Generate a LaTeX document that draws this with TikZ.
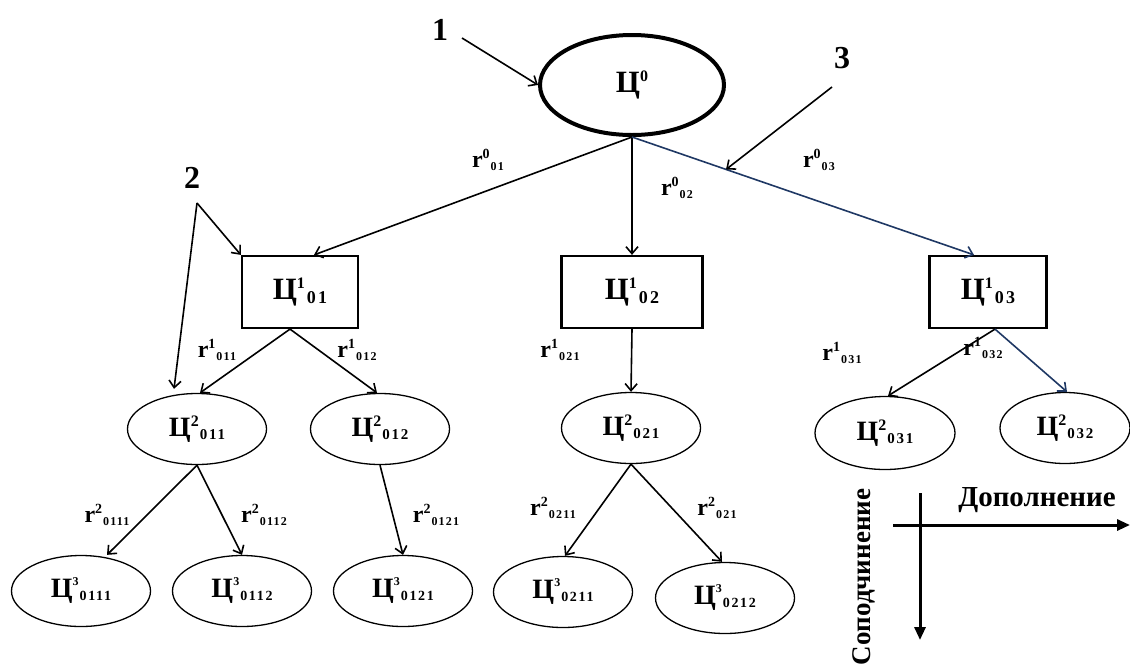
\documentclass[tikz,border=0pt]{standalone}
\usepackage{fontspec}
\setmainfont{Liberation Serif}
\usetikzlibrary{shapes.geometric,arrows.meta,calc}
\definecolor{linkblue}{RGB}{31,56,100}

% goal symbols: Ц with a superscript level and a spaced subscript index
\newcommand\RootGoal[1]{{\fontsize{31}{31}\selectfont Ц}\raisebox{11pt}{\fontsize{16}{16}\selectfont #1}}
\newcommand\BoxGoal[2]{{\fontsize{31}{31}\selectfont Ц}\raisebox{11pt}{\fontsize{16}{16}\selectfont #1}\hspace{2pt}\raisebox{-4pt}{\fontsize{18}{18}\selectfont\addfontfeatures{LetterSpace=12}#2}}
\newcommand\MidGoal[2]{{\fontsize{28}{28}\selectfont Ц}\raisebox{10pt}{\fontsize{16}{16}\selectfont #1}\hspace{1pt}\raisebox{-3pt}{\fontsize{15}{15}\selectfont\addfontfeatures{LetterSpace=12}#2}}
\newcommand\LowGoal[2]{{\fontsize{28}{28}\selectfont Ц}\raisebox{12pt}{\fontsize{12}{12}\selectfont #1}\hspace{1pt}\raisebox{-3pt}{\fontsize{14}{14}\selectfont\addfontfeatures{LetterSpace=12}#2}}
% relation labels r^k_index
\newcommand\Rel[2]{{\fontsize{24}{24}\selectfont r}\raisebox{9pt}{\fontsize{14}{14}\selectfont #1}\hspace{1pt}\raisebox{-3pt}{\fontsize{12}{12}\selectfont\addfontfeatures{LetterSpace=10}#2}}

\tikzset{
  every node/.style={font=\bfseries, inner sep=0pt},
  rootgoal/.style={ellipse, draw, line width=4pt, minimum width=184pt, minimum height=100pt},
  subgoal/.style={rectangle, draw, line width=2.2pt, minimum height=72pt},
  leafgoal/.style={ellipse, draw, line width=1.3pt, minimum width=139pt, minimum height=71pt},
  link/.style={line width=1.6pt, -{Straight Barb[length=7pt,width=12pt]}},
  bluelink/.style={link, draw=linkblue},
  axis/.style={line width=3pt, -{Triangle[length=13pt,width=11pt]}},
  marker/.style={font=\bfseries\fontsize{32}{32}\selectfont},
  axislabel/.style={font=\bfseries\fontsize{29}{29}\selectfont},
}

\begin{document}
\begin{tikzpicture}[x=1pt, y=-1pt]
\useasboundingbox (0,0) rectangle (1130,665);

% root goal
\node[rootgoal] (root) at (632,85) {\RootGoal{0}};

% first level
\node[subgoal, minimum width=116pt] (b1) at (300,292) {\BoxGoal{1}{01}};
\node[subgoal, minimum width=141pt] (b2) at (632,292) {\BoxGoal{1}{02}};
\node[subgoal, minimum width=117pt] (b3) at (988,292) {\BoxGoal{1}{03}};

% second level
\node[leafgoal] (e011) at (197,429) {\MidGoal{2}{011}};
\node[leafgoal] (e012) at (380,429) {\MidGoal{2}{012}};
\node[leafgoal] (e021) at (631,428) {\MidGoal{2}{021}};
\node[leafgoal, minimum width=140pt, minimum height=73pt] (e031) at (885,433) {\MidGoal{2}{031}};
\node[leafgoal, minimum width=130pt] (e032) at (1065,428) {\MidGoal{2}{032}};

% third level
\node[leafgoal] (f0111) at (81,591) {\LowGoal{3}{0111}};
\node[leafgoal] (f0112) at (242,591) {\LowGoal{3}{0112}};
\node[leafgoal] (f0121) at (403,591) {\LowGoal{3}{0121}};
\node[leafgoal] (f0211) at (563,592) {\LowGoal{3}{0211}};
\node[leafgoal] (f0212) at (725,598) {\LowGoal{3}{0212}};

% root to first level
\draw[link] (root.south) -- ($(b1.north)+(14,0)$);
\draw[link] (root.south) -- (b2.north);
\draw[bluelink] (root.south) -- coordinate[pos=0.275] (hit3) ($(b3.north)+(-14,0)$);

% first to second level
\draw[link] ($(b1.south)+(-10,0)$) -- ($(e011.north)+(3,0)$);
\draw[link] ($(b1.south)+(-10,0)$) -- ($(e012.north)+(-3,0)$);
\draw[link] (b2.south) -- (e021.north);
\draw[link] ($(b3.south)+(7,0)$) -- ($(e031.north)+(3,0)$);
\draw[bluelink] ($(b3.south)+(7,0)$) -- ($(e032.north)+(2,0)$);

% second to third level
\draw[link] (e011.south) -- ($(f0111.north)+(26,0)$);
\draw[link] (e011.south) -- (f0112.north);
\draw[link] (e012.south) -- (f0121.north);
\draw[link] (e021.south) -- ($(f0211.north)+(2,0)$);
\draw[link] (e021.south) -- ($(f0212.north)+(-3,0)$);

% relation labels
\node (r001) at (488,160) {\Rel{0}{01}};
\node (r002) at (677,188) {\Rel{0}{02}};
\node (r003) at (819,160) {\Rel{0}{03}};
\node (r1011) at (217,350) {\Rel{1}{011}};
\node (r1012) at (357,350) {\Rel{1}{012}};
\node (r1021) at (560,350) {\Rel{1}{021}};
\node (r1031) at (842,353) {\Rel{1}{031}};
\node (r1032) at (983,348) {\Rel{1}{032}};
\node (r20111) at (107,515) {\Rel{2}{0111}};
\node (r20112) at (264,515) {\Rel{2}{0112}};
\node (r20121) at (436,515) {\Rel{2}{0121}};
\node (r20211) at (553,508) {\Rel{2}{0211}};
\node (r2021) at (717,508) {\Rel{2}{021}};

% numbered pointers
\node[marker] (m1) at (440,30) {1};
\node[marker] (m2) at (192,178) {2};
\node[marker] (m3) at (842,58) {3};
\coordinate (t1) at (462,38);
\coordinate (t2) at (197,203);
\coordinate (t3) at (832,87);
\draw[link] (t1) -- (root.west);
\draw[link] (t2) -- (b1.north west);
\draw[link] (t2) -- ($(e011.north)+(-23,-4)$);
\draw[link] (t3) -- (hit3);

% axes of the hierarchy
\coordinate (hx0) at (893,525);
\coordinate (hx1) at (1130,525);
\coordinate (vy0) at (920,493);
\coordinate (vy1) at (920,640);
\draw[axis] (hx0) -- (hx1);
\draw[axis] (vy0) -- (vy1);
\node[axislabel] (dop) at (1037,500) {Дополнение};
\node[axislabel, font=\bfseries\fontsize{27}{27}\selectfont, rotate=90] (sop) at (864,577) {Соподчинение};
\end{tikzpicture}
\end{document}
